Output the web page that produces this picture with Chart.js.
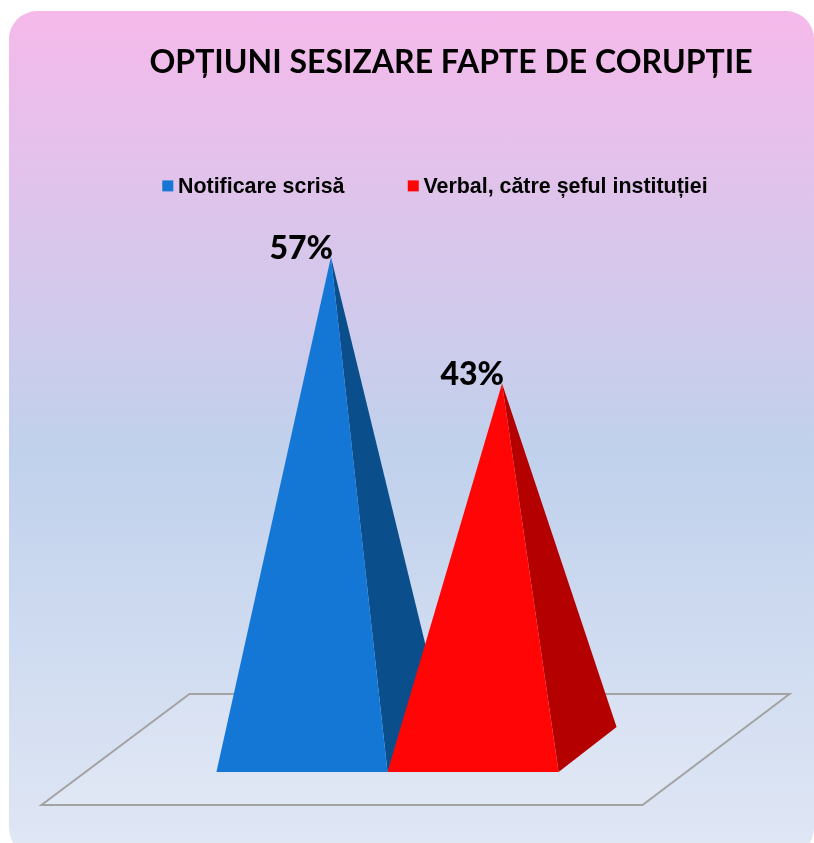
<!DOCTYPE html>
<html>
<head>
<meta charset="utf-8">
<title>Opțiuni sesizare fapte de corupție</title>
<script src="https://cdn.jsdelivr.net/npm/chart.js@4"></script>
<style>
  html, body { margin: 0; padding: 0; background: #fff; }
  #page { position: relative; width: 814px; height: 843px; overflow: hidden; }
  #panel {
    position: absolute; left: 9px; top: 11px; width: 805px; height: 845px;
    border-radius: 28px;
    background: linear-gradient(to bottom, #f5b9ea 0%, #c0d1ec 52%, #e0e7f5 100%);
  }
  canvas { position: absolute; left: 0; top: 0; }
</style>
</head>
<body>
<div id="page">
  <div id="panel"></div>
  <canvas id="chart" width="814" height="843"></canvas>
</div>
<script>
const chartTitle = 'OPȚIUNI SESIZARE FAPTE DE CORUPȚIE';
const categories = [''];
const seriesNames = ['Notificare scrisă', 'Verbal, către șeful instituției'];
const notificareValues = [57];
const verbalValues = [43];
const frontColors = ['#1477d6', '#ff0505'];
const sideColors = ['#0a4f8c', '#b50000'];

// oblique depth of the 3D look, in pixels
const depthX = 58;
const depthY = -45;

// Floor, pyramids and legend squares replace the normal drawing
const pyramidPlugin = {
  id: 'pyramids',
  beforeDatasetsDraw(chart) {
    const ctx = chart.ctx;
    const cx = (chart.chartArea.left + chart.chartArea.right) / 2;
    const y0 = chart.scales.y.getPixelForValue(0);
    ctx.save();
    ctx.beginPath();
    ctx.moveTo(cx - 346, y0 + 33);
    ctx.lineTo(cx + 255, y0 + 33);
    ctx.lineTo(cx + 402, y0 - 78);
    ctx.lineTo(cx - 198, y0 - 78);
    ctx.closePath();
    ctx.fillStyle = 'rgba(255,255,255,0.12)';
    ctx.fill();
    ctx.strokeStyle = '#a3a3a3';
    ctx.lineWidth = 2;
    ctx.stroke();
    ctx.restore();
  },
  beforeDatasetDraw() {
    return false;
  },
  afterDatasetsDraw(chart) {
    const ctx = chart.ctx;
    ctx.save();
    chart.data.datasets.forEach((dataset, i) => {
      const bar = chart.getDatasetMeta(i).data[0];
      const left = bar.x - bar.width / 2;
      const right = bar.x + bar.width / 2;
      const apexX = bar.x + depthX / 2;

      ctx.beginPath();
      ctx.moveTo(apexX, bar.y);
      ctx.lineTo(right, bar.base);
      ctx.lineTo(right + depthX, bar.base + depthY);
      ctx.closePath();
      ctx.fillStyle = dataset.sideColor;
      ctx.fill();

      ctx.beginPath();
      ctx.moveTo(apexX, bar.y);
      ctx.lineTo(left, bar.base);
      ctx.lineTo(right, bar.base);
      ctx.closePath();
      ctx.fillStyle = dataset.backgroundColor;
      ctx.fill();

      // Value label ends at the tip of the pyramid
      ctx.fillStyle = '#000';
      ctx.font = '900 32px Lato';
      ctx.textAlign = 'right';
      ctx.textBaseline = 'alphabetic';
      ctx.fillText(dataset.data[0] + '%', apexX + 2, bar.y + 2);
    });
    // Legend squares sit closer to the text than Chart.js allows
    chart.legend.legendHitBoxes.forEach((hit, i) => {
      ctx.fillStyle = frontColors[i];
      ctx.fillRect(hit.left - 5, hit.top + hit.height / 2 - 7, 11, 11);
    });
    ctx.restore();
  }
};

new Chart(document.getElementById('chart'), {
  type: 'bar',
  data: {
    labels: categories,
    datasets: [
      {label: seriesNames[0], data: notificareValues, backgroundColor: frontColors[0], sideColor: sideColors[0]},
      {label: seriesNames[1], data: verbalValues, backgroundColor: frontColors[1], sideColor: sideColors[1]}
    ]
  },
  options: {
    responsive: false,
    animation: false,
    layout: {padding: {left: 99, right: 11, top: 0, bottom: 71}},
    categoryPercentage: 0.593,
    barPercentage: 1,
    scales: {
      x: {display: false},
      y: {
        position: 'right',
        min: 0,
        max: 62.4,
        ticks: {display: false},
        grid: {display: false},
        border: {display: false},
        afterFit: (scale) => { scale.width = 127; }
      }
    },
    plugins: {
      title: {
        display: true,
        text: chartTitle,
        color: '#000',
        font: {family: 'Lato', size: 32, weight: '700'},
        padding: {top: 43, bottom: 27}
      },
      legend: {
        display: true,
        align: 'start',
        labels: {
          boxWidth: 0,
          boxHeight: 11,
          padding: 68.3,
          color: '#000',
          font: {family: 'Liberation Sans', size: 21.4, weight: '700'}
        }
      },
      tooltip: {enabled: false}
    }
  },
  plugins: [pyramidPlugin]
});
</script>
</body>
</html>
